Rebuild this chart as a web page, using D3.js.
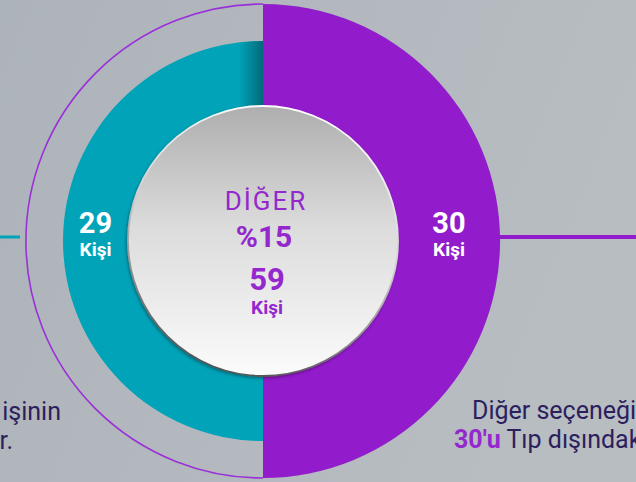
<!DOCTYPE html>
<html>
<head>
<meta charset="utf-8">
<script src="https://cdn.jsdelivr.net/npm/d3@7"></script>
<style>
	body{margin:0;padding:0;overflow:hidden;}
	svg{display:block;}
</style>
</head>
<body>
<div id="Main_Part"></div>
<script>
// chart data
var SliceNames = ["Tıp dışındaki", "Diğer"];
var SliceValues = [29, 30];
var SliceUnit = "Kişi";
var CenterTitle = "DİĞER";
var CenterPercent = "%15";
var CenterTotal = 59;
var LeftNotes = ["işinin", "r."];
var RightNotes = ["Diğer seçeneği", "30'u", " Tıp dışındaki"];

var Width = 636, Height = 482;
var CenterX = 263, CenterY = 241;
var InnerRadius = 135;
var SliceRadius = [200, 237];
var SliceColor = ["#01a3b9", "#921bcb"];
var TextPurple = "#9428cd";
var NoteColor = "#2b1f5e";

var Svg = d3.select('#Main_Part')
	.append("svg")
	.attr("width", Width)
	.attr("height", Height);

var Defs = Svg.append("defs");

var BackGrad = Defs.append("linearGradient")
	.attr("id", "BackGrad")
	.attr("x1", "0").attr("y1", "0")
	.attr("x2", "1").attr("y2", "0.3");
BackGrad.append("stop").attr("offset", "0").attr("stop-color", "#adb3ba");
BackGrad.append("stop").attr("offset", "1").attr("stop-color", "#b8bdc2");

var CoreGrad = Defs.append("linearGradient")
	.attr("id", "CoreGrad")
	.attr("x1", "0").attr("y1", "0")
	.attr("x2", "0").attr("y2", "1");
CoreGrad.append("stop").attr("offset", "0").attr("stop-color", "#aeaeae");
CoreGrad.append("stop").attr("offset", "0.45").attr("stop-color", "#dcdcdc");
CoreGrad.append("stop").attr("offset", "1").attr("stop-color", "#fbfbfb");

var RimGrad = Defs.append("linearGradient")
	.attr("id", "RimGrad")
	.attr("x1", "0.6").attr("y1", "0")
	.attr("x2", "0.3").attr("y2", "1");
RimGrad.append("stop").attr("offset", "0").attr("stop-color", "#ffffff");
RimGrad.append("stop").attr("offset", "0.45").attr("stop-color", "#d0d0d0");
RimGrad.append("stop").attr("offset", "1").attr("stop-color", "#4a4a4a");

var ShadeGrad = Defs.append("linearGradient")
	.attr("id", "ShadeGrad")
	.attr("x1", "0").attr("y1", "0")
	.attr("x2", "1").attr("y2", "0");
ShadeGrad.append("stop").attr("offset", "0").attr("stop-color", "#003a45").attr("stop-opacity", 0);
ShadeGrad.append("stop").attr("offset", "1").attr("stop-color", "#003a45").attr("stop-opacity", 0.55);

Svg.append("rect")
	.attr("width", Width)
	.attr("height", Height)
	.style("fill", "url(#BackGrad)");

// side lines
Svg.append("line")
	.attr("x1", 0).attr("x2", 20)
	.attr("y1", CenterY - 4).attr("y2", CenterY - 4)
	.style("stroke", SliceColor[0])
	.style("stroke-width", 3);

Svg.append("line")
	.attr("x1", CenterX + SliceRadius[1] - 2).attr("x2", Width)
	.attr("y1", CenterY - 4).attr("y2", CenterY - 4)
	.style("stroke", SliceColor[1])
	.style("stroke-width", 4);

var Chart = Svg.append("g")
	.attr("transform", "translate(" + CenterX + "," + CenterY + ")");

// thin outline on the left half
var RingArc = d3.arc()
	.innerRadius(SliceRadius[1])
	.outerRadius(SliceRadius[1])
	.startAngle(-Math.PI)
	.endAngle(0);

Chart.append("path")
	.attr("d", RingArc())
	.style("fill", "none")
	.style("stroke", "#9a30d8")
	.style("stroke-width", 1.6);

// two halves: left and right
var Pie = d3.pie()
	.sort(null)
	.value(function(){ return 1; })
	.startAngle(Math.PI * 2)
	.endAngle(0);

var Slices = Pie(SliceValues);

var SliceArc = d3.arc()
	.innerRadius(InnerRadius - 2)
	.outerRadius(function(d, i){ return SliceRadius[i]; });

Chart.selectAll(".slice")
	.data(Slices)
	.enter()
	.append("path")
	.attr("class", "slice")
	.attr("d", function(d, i){ return SliceArc(d, i); })
	.style("fill", function(d, i){ return SliceColor[i]; });

Defs.append("clipPath")
	.attr("id", "TealClip")
	.append("path")
	.attr("d", SliceArc(Slices[0], 0));

Chart.append("rect")
	.attr("x", -24)
	.attr("y", -SliceRadius[0])
	.attr("width", 24)
	.attr("height", SliceRadius[0])
	.attr("clip-path", "url(#TealClip)")
	.style("fill", "url(#ShadeGrad)");

// centre disc
var Shadow = Defs.append("filter")
	.attr("id", "CoreShadow")
	.attr("x", "-20%").attr("y", "-20%")
	.attr("width", "140%").attr("height", "140%");
Shadow.append("feDropShadow")
	.attr("dx", -1).attr("dy", 1.5)
	.attr("stdDeviation", 1.5)
	.attr("flood-color", "#000")
	.attr("flood-opacity", 0.35);

Chart.append("circle")
	.attr("r", InnerRadius)
	.attr("filter", "url(#CoreShadow)")
	.style("fill", "url(#CoreGrad)")
	.style("stroke", "url(#RimGrad)")
	.style("stroke-width", 1.8);

// labels on the halves
var LabelArc = d3.arc()
	.innerRadius(InnerRadius)
	.outerRadius(function(d, i){ return SliceRadius[i]; });

Slices.forEach(function(d, i)
{
	var Pos = LabelArc.centroid(d, i);
	var Label = Chart.append("text")
		.attr("x", Pos[0])
		.attr("y", Pos[1])
		.style("text-anchor", "middle")
		.style("font-family", "Roboto")
		.style("font-weight", "bold")
		.style("fill", "white");
	Label.append("tspan")
		.attr("x", Pos[0])
		.attr("dy", -8)
		.style("font-size", "29px")
		.text(SliceValues[i]);
	Label.append("tspan")
		.attr("x", Pos[0])
		.attr("dy", 23)
		.style("font-size", "19px")
		.text(SliceUnit);
});

// centre texts
Chart.append("text")
	.attr("x", 3)
	.attr("y", -31)
	.style("text-anchor", "middle")
	.style("font-family", "Roboto")
	.style("font-size", "26px")
	.style("letter-spacing", "2px")
	.style("fill", TextPurple)
	.text(CenterTitle);

Chart.append("text")
	.attr("x", 1)
	.attr("y", 6)
	.style("text-anchor", "middle")
	.style("font-family", "Roboto")
	.style("font-weight", "bold")
	.style("font-size", "30px")
	.style("fill", TextPurple)
	.text(CenterPercent);

Chart.append("text")
	.attr("x", 4)
	.attr("y", 49)
	.style("text-anchor", "middle")
	.style("font-family", "Roboto")
	.style("font-weight", "bold")
	.style("font-size", "31px")
	.style("fill", TextPurple)
	.text(CenterTotal);

Chart.append("text")
	.attr("x", 4)
	.attr("y", 73)
	.style("text-anchor", "middle")
	.style("font-family", "Roboto")
	.style("font-weight", "bold")
	.style("font-size", "19px")
	.style("fill", TextPurple)
	.text(SliceUnit);

// notes at the bottom
Svg.append("text")
	.attr("x", 61)
	.attr("y", 420)
	.style("text-anchor", "end")
	.style("font-family", "Roboto")
	.style("font-size", "25px")
	.style("fill", NoteColor)
	.text(LeftNotes[0]);

Svg.append("text")
	.attr("x", 13)
	.attr("y", 449)
	.style("text-anchor", "end")
	.style("font-family", "Roboto")
	.style("font-size", "25px")
	.style("fill", NoteColor)
	.text(LeftNotes[1]);

Svg.append("text")
	.attr("x", 472)
	.attr("y", 419)
	.style("font-family", "Roboto")
	.style("font-size", "25px")
	.style("fill", NoteColor)
	.text(RightNotes[0]);

var RightLine = Svg.append("text")
	.attr("x", 454)
	.attr("y", 448)
	.style("font-family", "Roboto")
	.style("font-size", "25px")
	.style("fill", NoteColor);
RightLine.append("tspan")
	.style("font-weight", "bold")
	.style("fill", TextPurple)
	.text(RightNotes[1]);
RightLine.append("tspan")
	.text(RightNotes[2]);
</script>
</body>
</html>
